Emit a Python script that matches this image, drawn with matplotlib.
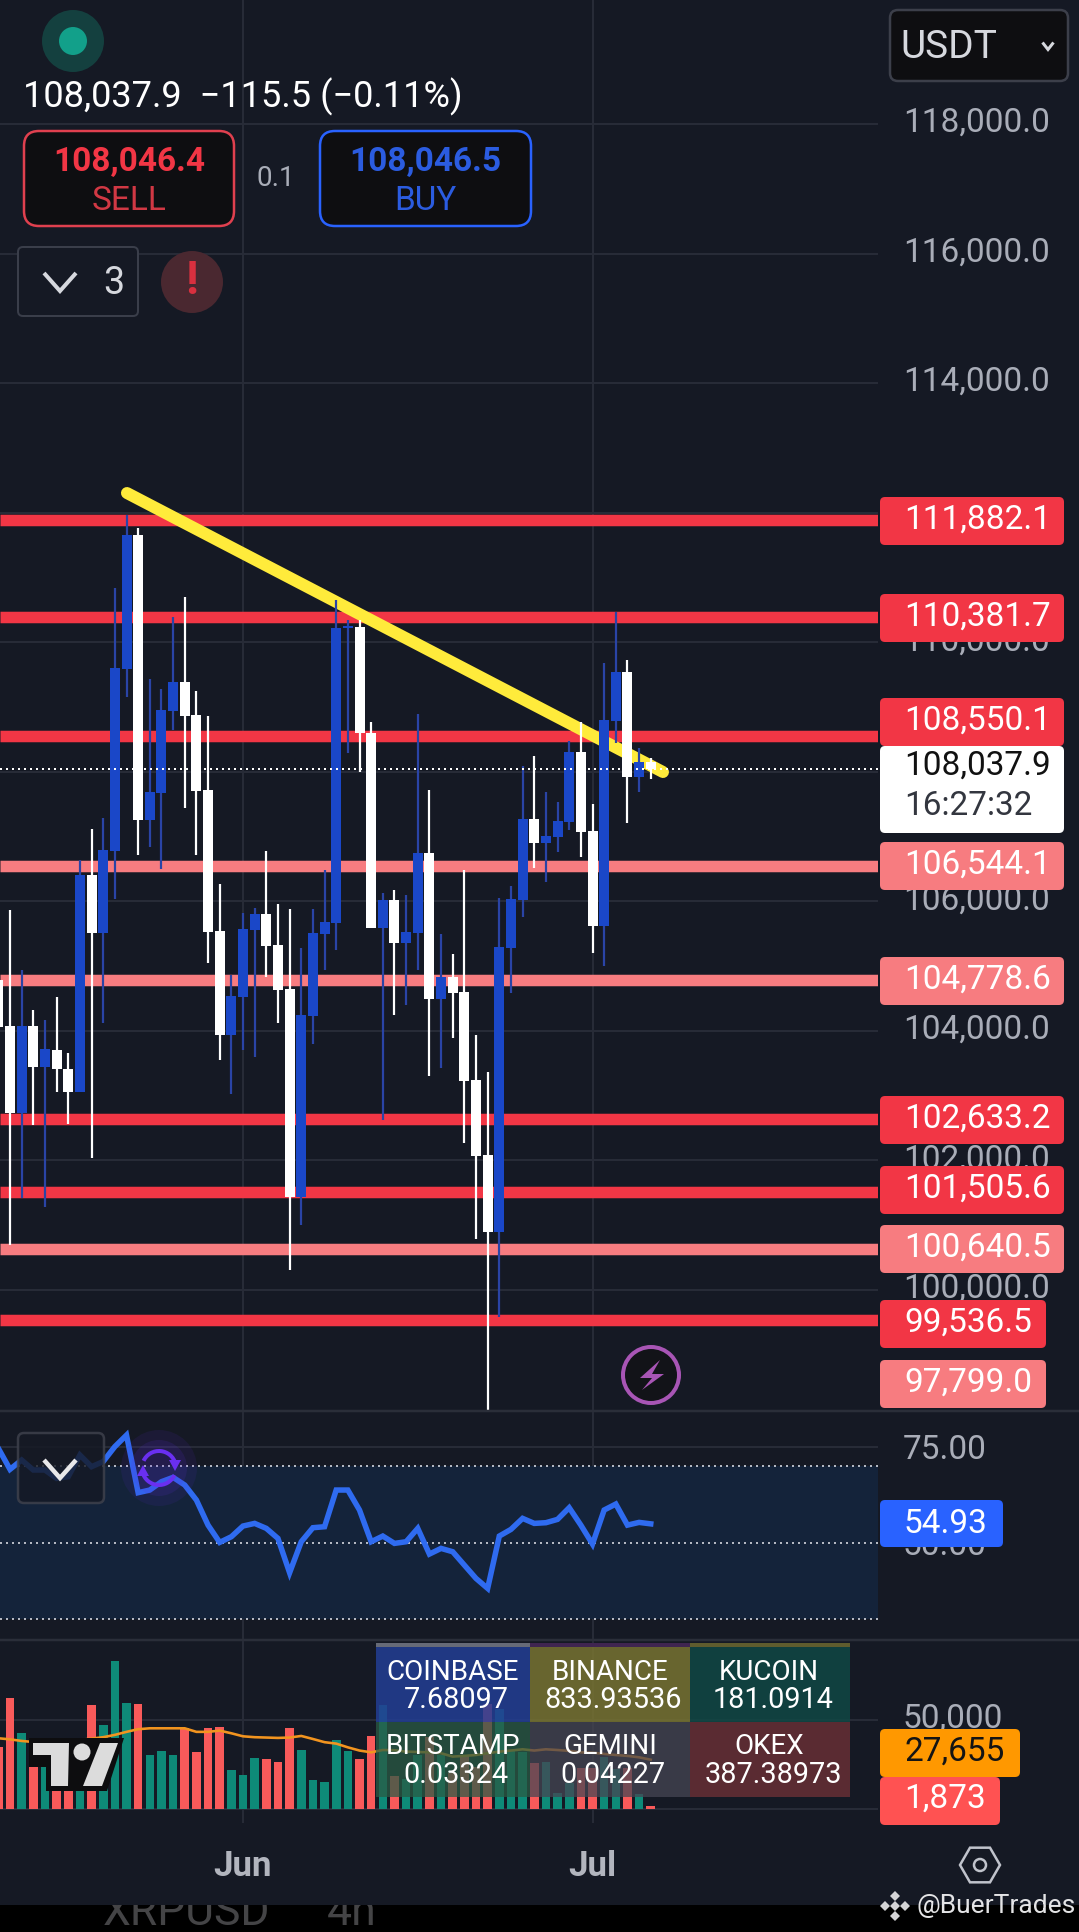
import numpy as np
import matplotlib
matplotlib.use("Agg")
import matplotlib.pyplot as plt
from matplotlib.patches import FancyBboxPatch, Circle, Polygon, Rectangle, RegularPolygon, Arc
from matplotlib.transforms import ScaledTranslation

plt.rcParams['font.family'] = ['Roboto', 'DejaVu Sans']

# ---- data ----
bar_index = list(range(-1, 56))
opens = [104785,104080,102730,104080,103440,103700,103410,103060,106410,105510,106780,109590,111660,107260,107670,108940,109390,108880,107720,105540,103940,104520,105560,105800,105330,104650,101440,104230,105500,105670,110220,110230,108600,105590,106020,105360,105510,106750,104490,104830,104600,103240,102080,100900,105280,106020,107270,106900,106990,107220,108310,107090,105620,108780,109540,107920,108150]
closes = [104060,102730,104080,103440,103720,103410,103060,106410,105510,106790,109600,111660,107260,107690,108950,109390,108860,107700,105530,103940,104540,105570,105800,105310,104630,101440,104250,105510,105680,110220,110250,108600,105590,106020,105360,105530,106750,104490,104830,104580,103230,102070,100900,105300,106040,107270,106900,107010,107240,108310,107070,105620,108800,109540,107920,108150,108037.9]
highs = [104860,105870,104940,104320,104170,104520,103660,106640,107120,107290,110840,111960,111760,109430,109280,110390,110700,109250,108860,106270,104860,105820,105900,106780,105960,105880,105280,105880,106480,110650,110340,110340,108770,106130,106170,106100,108890,107720,105500,105190,106480,103940,103370,106050,106240,108090,108240,107690,107530,108480,108770,107500,109680,110470,109730,108370,108210]
lows = [103860,100690,101420,102550,101280,103060,102560,103060,102040,104120,106040,109150,106720,106840,106500,108640,107440,106720,105050,103550,103030,103700,103600,104830,104120,100310,101000,103800,104940,105250,108290,108000,105590,102620,104250,104400,104940,103300,103430,103890,102270,100790,98150,99580,104580,105760,106510,106300,106760,107100,106680,105200,105000,108440,107210,107690,107890]

strong_levels = [111882.1, 110381.7, 108550.1, 102633.2, 101505.6, 99536.5]
weak_levels = [106544.1, 104778.6, 100640.5]
last_price = 108037.9
trend_x = [10.04, 56.05]
trend_y = [112303, 107996]
price_ticks = [118000, 116000, 114000, 112000, 110000, 108000, 106000, 104000, 102000, 100000]

rsi = [74.65,69.16,71.6,68.99,68.99,66.8,67.25,72.9,69.86,71.2,75.1,78.1,63.07,63.76,65.94,67.07,65.07,61.15,54.6,50.09,51.57,54.36,55.05,53.75,51.13,42.16,50.26,53.92,54.18,63.76,63.76,58.54,50.26,51.74,49.83,50.26,53.75,47.04,48.52,47.65,44.16,40.68,38.07,51.74,53.48,56.36,55.05,55.23,56.1,59.15,54.6,49.65,58.54,60.1,54.6,55.31,54.93]
rsi_levels = [70, 50, 30]

volume = [35000,62500,42900,24200,24200,12500,12500,12500,58400,47200,83100,59600,59000,30300,32600,30300,45300,32000,45300,45900,21900,19100,28700,28100,26400,45300,33100,16300,15200,38600,32600,28100,41000,58400,18500,16900,30300,40600,30300,20000,30300,23800,59000,56200,32600,32000,25800,26200,9200,14400,22800,22800,29400,22500,22800,8400,1873]
volume_ma = [39700,39100,38200,37600,37600,37800,38200,38800,39500,40300,41600,43300,44800,45300,45300,45300,45300,43300,43300,44000,42500,40800,40300,40100,39900,40100,41000,39300,37500,36700,34600,32800,31800,33100,33000,32200,32000,31800,31300,29400,29800,30300,31300,32200,32800,33500,32800,33500,33100,32600,31800,31600,30900,30300,29800,29000,27655]

month_pos = [20, 50]
month_labels = ['Jun', 'Jul']

exchanges = [['COINBASE', 'BINANCE', 'KUCOIN'], ['BITSTAMP', 'GEMINI', 'OKEX']]
exchange_values = [['7.68097', '833.93536', '181.0914'], ['0.03324', '0.04227', '387.38973']]
strong_tags = ['111,882.1', '110,381.7', '108,550.1', '102,633.2', '101,505.6', '99,536.5']

# ---- style ----
W, H = 1079, 1932
BG = '#151924'
GRID = '#272b37'
RED = '#F23645'
PINK = '#F77C80'
BODY_BLUE = '#1A47C8'
WICK_BLUE = '#2A44A6'
VOL_RED = '#F85A5A'
VOL_GREEN = '#0E8A78'
TICK = '#A9ADB8'

fig = plt.figure(figsize=(W / 100, H / 100), dpi=100, facecolor=BG)
px = 72 / 100


def make_ax(x0, x1, y0, y1):
    a = fig.add_axes([x0 / W, 1 - y1 / H, (x1 - x0) / W, (y1 - y0) / H], facecolor=BG)
    for s in a.spines.values():
        s.set_visible(False)
    return a


def lift_labels(a, pixels):
    for lab in a.get_yticklabels():
        lab.set_transform(lab.get_transform() + ScaledTranslation(0, pixels / 100, fig.dpi_scale_trans))


XLIM = (-10 / 11.65, (878 - 10) / 11.65)

# ---- main pane ----
ax = make_ax(0, 878, 0, 1411)
ax.set_xlim(XLIM)
ax.set_ylim(98132, 119914)
ax.set_axisbelow(True)
ax.yaxis.tick_right()
ax.set_yticks(price_ticks)
ax.set_yticklabels([f'{v:,.1f}' for v in price_ticks])
ax.tick_params(axis='y', length=0, pad=25 * px, labelsize=24, labelcolor=TICK)
ax.set_xticks(month_pos)
ax.tick_params(axis='x', length=0, labelbottom=False)
ax.grid(True, color=GRID, lw=2 * px)
lift_labels(ax, 4.5)
ax.hlines(strong_levels, *XLIM, color=RED, lw=11.5 * px, zorder=2)
ax.hlines(weak_levels, *XLIM, color=PINK, lw=11.5 * px, zorder=2)
ax.plot(trend_x, trend_y, color='#FFEB3B', lw=12 * px, solid_capstyle='round', zorder=2.5)
colors_up = [c > o for o, c in zip(opens, closes)]
wick_cols = [WICK_BLUE if u else 'white' for u in colors_up]
body_cols = [BODY_BLUE if u else 'white' for u in colors_up]
ax.vlines(bar_index, lows, highs, colors=wick_cols, lw=2.2 * px, zorder=3)
bottoms = [min(o, c) for o, c in zip(opens, closes)]
heights = [abs(o - c) for o, c in zip(opens, closes)]
ax.bar(bar_index, heights, bottom=bottoms, width=10 / 11.65, color=body_cols, zorder=4, lw=0)
ax.axhline(last_price, color='white', lw=2 * px, ls=(0, (1, 2)), zorder=5)

# ---- RSI pane ----
ax2 = make_ax(0, 878, 1411, 1640)
ax2.set_xlim(XLIM)
ax2.set_ylim(24.6, 84.4)
ax2.set_axisbelow(True)
ax2.yaxis.tick_right()
ax2.set_yticks([75, 50])
ax2.set_yticklabels(['75.00', '50.00'])
ax2.tick_params(axis='y', length=0, pad=25 * px, labelsize=24, labelcolor=TICK)
ax2.set_xticks(month_pos)
ax2.tick_params(axis='x', length=0, labelbottom=False)
ax2.grid(True, color=GRID, lw=2 * px)
ax2.axhspan(rsi_levels[2], rsi_levels[0], color='#14233A', lw=0, zorder=1)
for lv in rsi_levels:
    ax2.axhline(lv, color='#B4B8C2', lw=2 * px, ls=(0, (1, 2)), zorder=2)
ax2.plot(bar_index, rsi, color='#2F6BF0', lw=5.5 * px, solid_joinstyle='miter', zorder=3)

# ---- volume pane ----
ax3 = make_ax(0, 878, 1640, 1823)
ax3.set_xlim(XLIM)
ax3.set_ylim(-7900, 94900)
ax3.set_axisbelow(True)
ax3.yaxis.tick_right()
ax3.set_yticks([0, 50000])
ax3.set_yticklabels(['', '50,000'])
ax3.tick_params(axis='y', length=0, pad=25 * px, labelsize=24, labelcolor=TICK)
ax3.set_xticks(month_pos)
ax3.set_xticklabels(month_labels, fontsize=25, fontweight='bold', color='#B2B5BE')
ax3.tick_params(axis='x', length=0, pad=27 * px)
ax3.grid(True, color=GRID, lw=2 * px)
lift_labels(ax3, 4.5)
ax3.bar(bar_index, volume, width=8.6 / 11.65, color=[VOL_GREEN if u else VOL_RED for u in colors_up], lw=0, zorder=3)
ax3.plot(bar_index, volume_ma, color='#F2941F', lw=2.6 * px, zorder=4)

# ---- overlay ----
ui = fig.add_axes([0, 0, 1, 1], facecolor='none', zorder=10)
ui.set_xlim(0, W)
ui.set_ylim(H, 0)
ui.axis('off')


def box(x0, y0, x1, y1, fc, ec='none', lw=0, r=5, **kw):
    p = FancyBboxPatch((x0, y0), x1 - x0, y1 - y0, boxstyle=f'round,pad=0,rounding_size={r}',
                       fc=fc, ec=ec, lw=lw * px, **kw)
    ui.add_patch(p)


def text(x, y, s, size=24, color='white', ha='left', **kw):
    ui.text(x, y, s, fontsize=size, color=color, ha=ha, va='center', **kw)


def chevron(cx, cy, w, h, color, lw):
    ui.plot([cx - w / 2, cx, cx + w / 2], [cy - h / 2, cy + h / 2, cy - h / 2], color=color,
            lw=lw * px, solid_joinstyle='miter', solid_capstyle='butt')


for y in (1411, 1640):
    ui.plot([0, W], [y, y], color='#2A2E39', lw=2.5 * px)

# header
ui.add_patch(Circle((73, 41), 31, fc='#14403F', ec='none'))
ui.add_patch(Circle((73, 41), 14, fc='#12A08A', ec='none'))
text(23, 97, '108,037.9  \u2212115.5 (\u22120.11%)', size=26)
box(24, 131, 234, 226, '#0E0E11', '#E0404F', 2.5, r=15)
text(129, 162, '108,046.4', size=24, color=RED, ha='center', fontweight='bold')
text(129, 201, 'SELL', size=24, color='#D13844', ha='center')
text(276, 178, '0.1', size=20, color=TICK, ha='center')
box(320, 131, 531, 226, '#0E0E11', '#2962FF', 2.5, r=15)
text(425, 162, '108,046.5', size=24, color='#2B5CE0', ha='center', fontweight='bold')
text(425, 201, 'BUY', size=24, color='#2B5CE0', ha='center')
box(18, 247, 138, 316, BG, '#3A3E4A', 2, r=5)
chevron(60, 282, 32, 18, '#D6D8DE', 4)
text(114, 284, '3', size=27, color='#D6D8DE', ha='center')
ui.add_patch(Circle((192, 282), 31, fc='#4A2830', ec='none'))
text(192, 281, '!', size=34, color='#D9303F', ha='center', fontweight='bold')
box(890, 10, 1068, 81, '#0E0E11', '#3C3F4A', 2.5, r=8)
text(900, 47, 'USDT', size=28, color='#D6D8DE')
chevron(1048, 46, 11, 7, '#D6D8DE', 3)

# price tags
strong_tag_y = [521, 618, 722, 1120, 1190, 1324]
strong_tag_x1 = [1064, 1064, 1064, 1064, 1064, 1046]
for s, yc, x1 in zip(strong_tags, strong_tag_y, strong_tag_x1):
    box(880, yc - 24, x1, yc + 24, RED)
    text(904, yc - 1, s)
for s, yc, x1 in [('106,544.1', 866, 1064), ('104,778.6', 981, 1064), ('100,640.5', 1249, 1064), ('97,799.0', 1384, 1046)]:
    box(880, yc - 24, x1, yc + 24, PINK)
    text(904, yc - 1, s)
box(880, 746, 1064, 833, 'white')
text(904, 766, '108,037.9', color='#111111')
text(904, 806, '16:27:32', color='#33363F')

# RSI decorations
box(18, 1433, 104, 1503, '#151924', '#3F424D', 2.5, r=6, alpha=0.82)
chevron(60, 1469, 32, 18, '#E8E8EA', 4.5)
for r, a in ((38, 0.10), (28, 0.14)):
    ui.add_patch(Circle((159, 1468), r, fc='#5B2BD8', ec='none', alpha=a))
ui.add_patch(Arc((159, 1468), 34, 34, theta1=205, theta2=345, ec='#6A2FF0', lw=4 * px))
ui.add_patch(Arc((159, 1468), 34, 34, theta1=25, theta2=165, ec='#6A2FF0', lw=4 * px))
ui.add_patch(Polygon([(169, 1460), (181, 1460), (175, 1471)], fc='#6A2FF0', ec='none'))
ui.add_patch(Polygon([(137, 1476), (149, 1476), (143, 1465)], fc='#6A2FF0', ec='none'))
box(880, 1500, 1003, 1547, '#2962FF')
text(904, 1524, '54.93')

# lightning icon
ui.add_patch(Circle((651, 1375), 28, fc='#121318', ec='#A855B5', lw=4 * px))
ui.add_patch(Polygon([(660, 1360), (640, 1378), (652, 1378), (642, 1390), (664, 1374), (652, 1374)],
                     fc='#A855B5', ec='none'))

# exchange table
col_edges = [376, 530, 690, 850]
row_edges = [1647, 1722, 1797]
strip_cols = ['#666A77', '#3F2550', '#5F5C2E']
cell_cols = [['#233E95', '#787332', '#104844'], ['#2A5B45', '#464653', '#723237']]
name_y = [1672, 1747]
val_y = [1700, 1775]
val_x = [456, 613, 773]
name_x = [453, 610, 769]
for c in range(3):
    ui.add_patch(Rectangle((col_edges[c], 1643), col_edges[c + 1] - col_edges[c], 4, fc=strip_cols[c], ec='none'))
    for r_ in range(2):
        ui.add_patch(Rectangle((col_edges[c], row_edges[r_]), col_edges[c + 1] - col_edges[c],
                               row_edges[r_ + 1] - row_edges[r_], fc=cell_cols[r_][c], ec='none',
                               alpha=0.75 if r_ == 1 else 0.85))
        text(name_x[c], name_y[r_], exchanges[r_][c], size=20, ha='center')
        text(val_x[c], val_y[r_], exchange_values[r_][c], size=20.8, ha='center')

# TradingView logo
ui.add_patch(Polygon([(29, 1738), (124, 1738), (107, 1791), (46, 1791), (46, 1767), (29, 1767)], fc='#0D0D0F', ec='none'))
ui.add_patch(Polygon([(33, 1743), (69, 1743), (68, 1786), (51, 1786), (51, 1755), (33, 1755)], fc='#DCDCDC', ec='none'))
ui.add_patch(Circle((82, 1752), 8.5, fc='#DCDCDC', ec='none'))
ui.add_patch(Polygon([(100, 1743), (118, 1743), (102, 1786), (83, 1786)], fc='#DCDCDC', ec='none'))

# volume tags
box(880, 1729, 1020, 1777, '#FF9800')
text(904, 1752, '27,655', color='#141414')
box(880, 1777, 1000, 1825, '#FF5252')
text(904, 1799, '1,873')

# settings hexagon
ui.add_patch(RegularPolygon((980, 1865), 6, radius=20, orientation=np.pi / 6, fc='none', ec='#C0C3CC', lw=2.5 * px))
ui.add_patch(Circle((980, 1865), 6, fc='none', ec='#C0C3CC', lw=2.5 * px))

# bottom black strip with clipped text
ui.add_patch(Rectangle((0, 1905), W, 27, fc='black', ec='none'))
clip = Rectangle((0, 1905), W, 27, transform=ui.transData)
for x, s in ((103, 'XRPUSD'), (327, '4h')):
    t = ui.text(x, 1925, s, fontsize=32, color='#444446', ha='left', va='baseline')
    t.set_clip_path(clip)
    t.set_clip_on(True)

# watermark
for dx, dy in ((0, -10), (-10, 0), (10, 0), (0, 10), (0, 0)):
    s = 5
    ui.add_patch(Polygon([(895 + dx, 1906 + dy - s), (895 + dx + s, 1906 + dy), (895 + dx, 1906 + dy + s), (895 + dx - s, 1906 + dy)],
                         fc='#D4D4D6', ec='none'))
text(916, 1906, '@BuerTrades', size=19, color='#E4E4E6')

fig.savefig('out.png', dpi=100, facecolor=fig.get_facecolor())
